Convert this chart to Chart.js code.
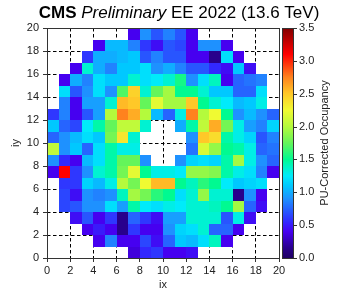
<!DOCTYPE html>
<html>
<head>
<meta charset="utf-8">
<script src="https://cdn.jsdelivr.net/npm/chart.js@4.4.1/dist/chart.umd.min.js"></script>
<style>
  html, body { margin: 0; padding: 0; background: #fff; }
  #wrap { width: 338px; height: 297px; }
</style>
</head>
<body>
<div id="wrap"><canvas id="myChart" width="338" height="297"></canvas></div>
<script>
// PU-corrected occupancy per crystal, one array per iy row (ix = 0..19), null = no crystal
const n = null;
const iy19 = [n, n, n, n, n, n, n, 0.4, 0.9, 0.7, 0.85, 0.7, 0.4, n, n, n, n, n, n, n];
const iy18 = [n, n, n, n, 0.4, 1.05, 1.05, 0.85, 0.6, 0.45, 0.7, 0.65, 0.4, 0.9, 0.9, 0.4, n, n, n, n];
const iy17 = [n, n, n, 0.6, 1.0, 1.0, 1.05, 1.1, 0.7, 0.85, 0.7, 0.7, 0.4, 0.4, 0.15, 1.2, 0.4, n, n, n];
const iy16 = [n, n, 0.4, 1.35, 1.0, 0.85, 1.1, 1.1, 1.2, 0.9, 1.0, 0.85, 0.7, 0.7, 0.55, 0.45, 1.1, 0.45, n, n];
const iy15 = [n, 0.4, 1.0, 0.85, 1.2, 1.1, 1.1, 1.35, 1.2, 1.25, 1.35, 1.55, 0.9, 1.2, 1.4, 0.4, 0.75, 0.8, 0.85, n];
const iy14 = [n, 1.2, 0.7, 0.9, 1.2, 0.9, 1.7, 2.45, 1.35, 1.75, 1.95, 1.5, 1.5, 1.35, 1.1, 1.1, 0.75, 0.75, 1.2, n];
const iy13 = [n, 0.85, 0.4, 0.95, 0.95, 1.35, 2.55, 2.5, 1.75, 2.2, 1.95, 1.95, 2.5, 1.5, 1.35, 1.25, 1.05, 1.1, 1.3, n];
const iy12 = [0.6, 0.85, 0.4, 0.7, 0.95, 2.0, 2.75, 2.6, 2.0, 1.05, 0.75, 1.3, 2.75, 2.0, 2.25, 1.5, 0.9, 1.05, 0.9, 0.75];
const iy11 = [1.1, 0.75, 0.65, 1.25, 1.45, 1.75, 2.05, 2.05, 1.35, n, n, 1.0, 1.45, 2.05, 2.6, 1.8, 1.3, 0.95, 0.85, 1.15];
const iy10 = [0.75, 0.9, 1.05, 1.2, 1.1, 1.8, 2.35, 1.35, n, n, n, n, 0.9, 2.5, 2.4, 1.45, 1.3, 1.15, 0.7, 0.85];
const iy9 = [2.05, 0.9, 1.1, 0.75, 1.2, 1.45, 1.3, 1.3, n, n, n, n, 0.8, 2.15, 1.9, 1.5, 1.45, 1.3, 0.75, 0.8];
const iy8 = [0.9, 0.55, 0.4, 1.05, 1.2, 1.45, 1.75, 1.75, 0.9, n, n, 0.9, 1.15, 1.2, 1.15, 1.45, 1.95, 1.3, 0.9, 0.75];
const iy7 = [0.4, 3.1, 0.6, 0.9, 1.35, 1.45, 1.8, 2.2, 1.5, 1.3, 1.3, 1.25, 1.9, 1.9, 1.85, 1.45, 1.3, 1.2, 0.85, 0.4];
const iy6 = [n, 0.6, 0.6, 1.15, 1.05, 1.3, 2.0, 1.8, 2.25, 2.55, 2.55, 1.5, 1.4, 1.6, 1.5, 1.25, 1.1, 1.15, 1.2, n];
const iy5 = [n, 0.65, 0.45, 0.9, 0.85, 0.9, 1.4, 1.95, 1.8, 1.6, 1.5, 1.2, 1.35, 1.9, 1.35, 1.35, 0.15, 0.9, 0.4, n];
const iy4 = [n, 0.65, 0.7, 0.9, 0.9, 1.2, 0.95, 1.45, 1.25, 1.2, 1.3, 1.25, 1.35, 1.35, 1.4, 1.5, 1.95, 0.75, 0.45, n];
const iy3 = [n, n, 0.45, 0.7, 0.4, 0.6, 0.15, 0.75, 0.6, 0.45, 0.95, 0.95, 1.35, 1.35, 1.35, 0.7, 1.3, 0.45, n, n];
const iy2 = [n, n, n, 0.4, 0.5, 0.4, 0.15, 0.6, 0.4, 0.4, 0.9, 1.15, 1.2, 1.35, 0.75, 0.75, 0.4, n, n, n];
const iy1 = [n, n, n, n, 0.4, 0.85, 0.4, 0.4, 0.65, 0.45, 0.75, 1.1, 1.05, 1.2, 1.4, 0.4, n, n, n, n];
const iy0 = [n, n, n, n, n, n, n, 0.35, 0.55, 0.6, 0.4, 0.4, 0.45, n, n, n, n, n, n, n];

const rowsFromBottom = [iy0, iy1, iy2, iy3, iy4, iy5, iy6, iy7, iy8, iy9,
  iy10, iy11, iy12, iy13, iy14, iy15, iy16, iy17, iy18, iy19];

const axisTicks = [0, 2, 4, 6, 8, 10, 12, 14, 16, 18, 20];
const cbarTicks = [0, 0.5, 1.0, 1.5, 2.0, 2.5, 3.0, 3.5];
const cbarMin = 0;
const cbarMax = 3.5;

// colour stops of the colour bar (value -> rgb)
const cmapStops = [
  [0.0, [30, 0, 100]],
  [0.15, [40, 0, 140]],
  [0.4, [70, 0, 240]],
  [0.55, [50, 40, 255]],
  [0.7, [40, 85, 255]],
  [0.9, [30, 145, 255]],
  [1.1, [0, 200, 255]],
  [1.25, [0, 235, 250]],
  [1.4, [0, 245, 190]],
  [1.5, [0, 250, 145]],
  [1.75, [100, 245, 90]],
  [2.0, [180, 250, 60]],
  [2.25, [240, 250, 50]],
  [2.5, [255, 200, 40]],
  [2.75, [255, 130, 30]],
  [3.1, [255, 0, 0]],
  [3.5, [128, 0, 0]],
];

function cmap(v) {
  if (v <= cmapStops[0][0]) return `rgb(${cmapStops[0][1].join(",")})`;
  for (let i = 1; i < cmapStops.length; i++) {
    const [v1, c1] = cmapStops[i];
    if (v <= v1) {
      const [v0, c0] = cmapStops[i - 1];
      const t = (v - v0) / (v1 - v0);
      const c = c0.map((a, k) => Math.round(a + (c1[k] - a) * t));
      return `rgb(${c.join(",")})`;
    }
  }
  return `rgb(${cmapStops[cmapStops.length - 1][1].join(",")})`;
}

// セルのデータ
const cells = [];
rowsFromBottom.forEach((row, iy) => {
  row.forEach((v, ix) => {
    if (v !== null) cells.push({ x: ix, y: iy, v: v });
  });
});

const FONT = "'Liberation Sans', Arial, sans-serif";
const TEXT = "#222";

// ヒートマップのセルを描画
const heatmapPlugin = {
  id: "heatmap",
  beforeDatasetsDraw(chart) {
    const { ctx } = chart;
    const xs = chart.scales.x;
    const ys = chart.scales.y;
    ctx.save();
    chart.data.datasets[0].data.forEach((d) => {
      const x0 = Math.round(xs.getPixelForValue(d.x));
      const x1 = Math.round(xs.getPixelForValue(d.x + 1));
      const y0 = Math.round(ys.getPixelForValue(d.y + 1));
      const y1 = Math.round(ys.getPixelForValue(d.y));
      ctx.fillStyle = cmap(d.v);
      ctx.fillRect(x0, y0, x1 - x0, y1 - y0);
    });
    ctx.restore();
  },
  afterDraw(chart) {
    const { ctx, chartArea } = chart;
    const cb = chart.scales.cb;
    ctx.save();

    // 枠線
    ctx.strokeStyle = "#333";
    ctx.lineWidth = 1;
    ctx.strokeRect(
      Math.round(chartArea.left) + 0.5,
      Math.round(chartArea.top) + 0.5,
      Math.round(chartArea.right - chartArea.left),
      Math.round(chartArea.bottom - chartArea.top)
    );

    // カラーバー
    const bx0 = Math.round(chartArea.right) + 3;
    const bx1 = bx0 + 11;
    const top = Math.round(cb.getPixelForValue(cbarMax));
    const bottom = Math.round(cb.getPixelForValue(cbarMin));
    for (let py = top; py < bottom; py++) {
      ctx.fillStyle = cmap(cb.getValueForPixel(py + 0.5));
      ctx.fillRect(bx0, py, bx1 - bx0, 1);
    }
    ctx.strokeStyle = "#333";
    ctx.strokeRect(bx0 + 0.5, top + 0.5, bx1 - bx0, bottom - top);
    cbarTicks.forEach((t) => {
      const py = Math.round(cb.getPixelForValue(t)) + 0.5;
      ctx.beginPath();
      ctx.moveTo(bx1, py);
      ctx.lineTo(bx1 + 4, py);
      ctx.stroke();
    });

    // カラーバーのタイトル
    ctx.fillStyle = TEXT;
    ctx.font = `11px ${FONT}`;
    ctx.textAlign = "center";
    ctx.textBaseline = "middle";
    ctx.translate(325, (top + bottom) / 2);
    ctx.rotate(-Math.PI / 2);
    ctx.fillText("PU-Corrected Occupancy", 0, 0);
    ctx.setTransform(1, 0, 0, 1, 0, 0);

    // タイトル（太字・斜体・標準の混在）
    const parts = [
      { text: "CMS ", font: `bold 17px ${FONT}` },
      { text: "Preliminary", font: `italic 17px ${FONT}` },
      { text: " EE 2022 (13.6 TeV)", font: `17px ${FONT}` },
    ];
    let total = 0;
    parts.forEach((p) => {
      ctx.font = p.font;
      p.w = ctx.measureText(p.text).width;
      total += p.w;
    });
    let tx = 179 - total / 2;
    ctx.fillStyle = "#000";
    ctx.textAlign = "left";
    ctx.textBaseline = "alphabetic";
    parts.forEach((p) => {
      ctx.font = p.font;
      ctx.fillText(p.text, tx, 18);
      tx += p.w;
    });
    ctx.restore();
  },
};

function gridColor(c) {
  const v = c.tick ? c.tick.value : null;
  return v === 0 || v === 20 ? "rgba(0,0,0,0)" : "#000";
}

const ctx = document.getElementById("myChart").getContext("2d");
new Chart(ctx, {
  type: "scatter",
  data: {
    datasets: [
      {
        label: "occupancy",
        data: cells,
        pointRadius: 0,
        pointHoverRadius: 0,
      },
    ],
  },
  options: {
    responsive: false,
    devicePixelRatio: 1,
    animation: false,
    layout: { padding: { top: 28, left: 0, right: 0, bottom: 0 } },
    plugins: {
      legend: { display: false },
      tooltip: { enabled: false },
      title: { display: false },
    },
    scales: {
      x: {
        type: "linear",
        position: "bottom",
        min: 0,
        max: 20,
        z: 1,
        afterBuildTicks: (s) => {
          s.ticks = axisTicks.map((v) => ({ value: v }));
        },
        afterFit: (s) => {
          s.height = 39;
        },
        ticks: {
          color: TEXT,
          font: { family: FONT, size: 11 },
          padding: 2,
          maxRotation: 0,
          autoSkip: false,
        },
        grid: {
          color: gridColor,
          lineWidth: 1,
          tickLength: 4,
          tickColor: "#333",
        },
        border: { display: false, dash: [3.5, 2.5] },
        title: {
          display: true,
          text: "ix",
          color: TEXT,
          font: { family: FONT, size: 11 },
          padding: { top: 0, bottom: 5 },
        },
      },
      y: {
        type: "linear",
        position: "left",
        min: 0,
        max: 20,
        z: 1,
        afterBuildTicks: (s) => {
          s.ticks = axisTicks.map((v) => ({ value: v }));
        },
        afterFit: (s) => {
          s.width = 47;
        },
        ticks: {
          color: TEXT,
          font: { family: FONT, size: 11 },
          padding: 4,
          autoSkip: false,
        },
        grid: {
          color: gridColor,
          lineWidth: 1,
          tickLength: 4,
          tickColor: "#333",
        },
        border: { display: false, dash: [3.5, 2.5] },
        title: {
          display: true,
          text: "iy",
          color: TEXT,
          font: { family: FONT, size: 11 },
          padding: { top: 9, bottom: 0 },
        },
      },
      cb: {
        type: "linear",
        position: "right",
        min: cbarMin,
        max: cbarMax,
        afterBuildTicks: (s) => {
          s.ticks = cbarTicks.map((v) => ({ value: v }));
        },
        afterFit: (s) => {
          s.width = 59;
        },
        ticks: {
          color: TEXT,
          font: { family: FONT, size: 11 },
          padding: 3,
          callback: (v) => Number(v).toFixed(1),
        },
        grid: {
          drawOnChartArea: false,
          tickLength: 17,
          tickColor: "rgba(0,0,0,0)",
        },
        border: { display: false },
      },
    },
  },
  plugins: [heatmapPlugin],
});
</script>
</body>
</html>
